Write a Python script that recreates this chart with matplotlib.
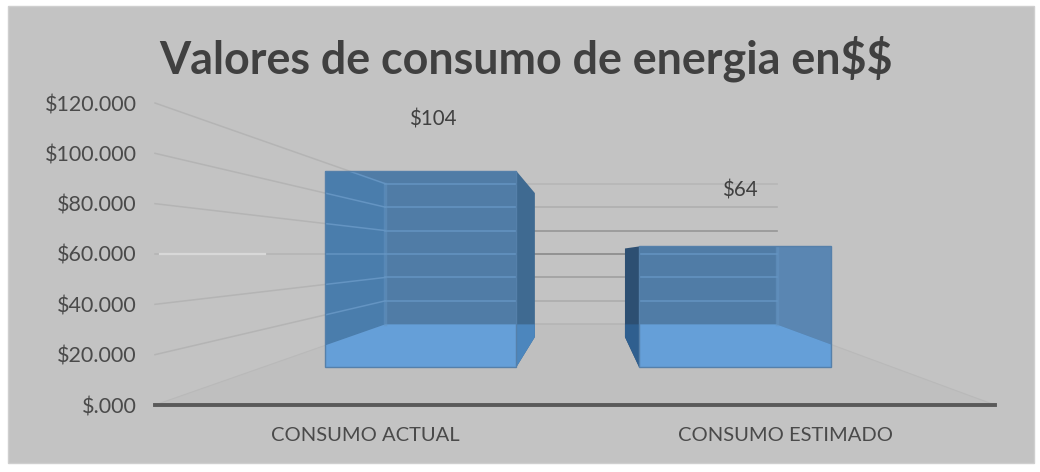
import matplotlib
matplotlib.use("Agg")
import matplotlib.pyplot as plt
from matplotlib.patches import Polygon, Rectangle

# --- datos ---
categorias = ["CONSUMO ACTUAL", "CONSUMO ESTIMADO"]
valores = [104, 64]
etiquetas = ["$104", "$64"]
niveles = [0, 20, 40, 60, 80, 100, 120]
niveles_txt = ["$.000", "$20.000", "$40.000", "$60.000", "$80.000", "$100.000", "$120.000"]

W, H = 1040, 472
plt.rcParams["font.family"] = ["Lato", "DejaVu Sans"]

fig = plt.figure(figsize=(W / 100, H / 100), dpi=100, facecolor="white")
fig.add_artist(Rectangle((8 / W, 1 - 463 / H), 1026 / W, 457 / H, transform=fig.transFigure,
                         facecolor="#c3c3c3", edgecolor="#cfcfcf", lw=1, zorder=-1))

# el plano frontal del piso coincide con los ejes
ax = fig.add_axes([155 / W, 1 - 405 / H, 840 / W, 302 / H])
ax.set_xlim(0, 2)
ax.set_ylim(0, 120)
ax.patch.set_visible(False)

# --- perspectiva: todo converge hacia (XC, VC) ---
XC, VC = 1.026, 60
S_PARED, S_FRENTE, S_FONDO = 0.466, 0.748, 0.55
ANCHO = 0.61


def proy(x, v, s):
    return XC + (x - XC) * s, VC + (v - VC) * s


def poligono(puntos, **kw):
    p = Polygon(puntos, closed=True, clip_on=False, **kw)
    ax.add_patch(p)
    return p


def piso():
    return [proy(0, 0, 1), proy(2, 0, 1), proy(2, 0, S_PARED), proy(0, 0, S_PARED)]


# piso general
poligono(piso(), facecolor="#bfbfbf", edgecolor="#b9b9b9", lw=0.8, zorder=1)

# --- lineas de division: pared izquierda y pared del fondo ---
colores_fondo = ["#b6b6b6", "#adadad", "#9f9f9f", "#8a8a8a", "#969696", "#afafaf", "#b6b6b6"]
for v, c in zip(niveles, colores_fondo):
    x0, y0 = proy(0, v, 1)
    x1, y1 = proy(0, v, S_PARED)
    x2, y2 = proy(2, v, S_PARED)
    if v > 0:
        ax.plot([x0, x1], [y0, y1], color="#b4b4b4", lw=1.1, clip_on=False, zorder=2)
    ax.plot([x1, x2], [y1, y2], color=c, lw=1.2, clip_on=False, zorder=2)
ax.plot([0.012, 0.262], [60, 60], color="#d8d8d8", lw=1.6, clip_on=False, zorder=2)


# --- barras transparentes: se ven las paredes y el piso a traves ---
def barra(i, valor):
    xa, xb = i + 0.5 - ANCHO / 2, i + 0.5 + ANCHO / 2
    f = [proy(xa, 0, S_FRENTE), proy(xb, 0, S_FRENTE), proy(xb, valor, S_FRENTE), proy(xa, valor, S_FRENTE)]
    # cara lateral: la que queda hacia el centro del grafico
    xl = xb if xb < XC else xa
    lat = [proy(xl, 0, S_FRENTE), proy(xl, 0, S_FONDO), proy(xl, valor, S_FONDO), proy(xl, valor, S_FRENTE)]
    lado = "#3f6a91" if i == 0 else "#2d4f72"
    cara_lat = poligono(lat, facecolor=lado, edgecolor="none", zorder=3)
    p_lat = poligono(piso(), facecolor="#4c86bd" if i == 0 else "#2f5f8f", edgecolor="none", zorder=4)
    p_lat.set_clip_path(cara_lat)
    p_lat.set_clip_on(True)

    cara = poligono(f, facecolor="#507ca6", edgecolor="none", zorder=5)

    def recorte(art):
        art.set_clip_path(cara)
        art.set_clip_on(True)

    # pared izquierda / derecha vista a traves de la barra
    for borde in (0, 2):
        pared = poligono([proy(borde, 0, 1), proy(borde, 0, S_PARED),
                          proy(borde, 120, S_PARED), proy(borde, 120, 1)],
                         facecolor="#4a7dac" if borde == 0 else "#5a86b2", edgecolor="none", zorder=6)
        recorte(pared)
    recorte(poligono(piso(), facecolor="#659fd8", edgecolor="none", zorder=7))

    for v in niveles[1:]:
        x0, y0 = proy(0, v, 1)
        x1, y1 = proy(0, v, S_PARED)
        x2, y2 = proy(2, v, S_PARED)
        for xs, ys in (([x0, x1], [y0, y1]), ([x1, x2], [y1, y2])):
            ln, = ax.plot(xs, ys, color="#6494c2", lw=1.1, zorder=8)
            recorte(ln)
    for borde in (0, 2):
        xv, y0 = proy(borde, 0, S_PARED)
        _, y1 = proy(borde, 120, S_PARED)
        ln, = ax.plot([xv, xv], [y0, y1], color="#6494c2", lw=2.5, alpha=0.5, zorder=8)
        recorte(ln)

    poligono(f, facecolor="none", edgecolor="#5580aa", lw=1, zorder=9)


for i, v in enumerate(valores):
    barra(i, v)

# --- etiquetas de datos ---
pos_etiquetas = [(0.661, 113.5), (1.393, 85.3)]
for txt, (x, y) in zip(etiquetas, pos_etiquetas):
    ax.text(x, y, txt, ha="center", va="center", fontsize=14.8, color="#404040", zorder=10, clip_on=False)

# --- ejes ---
ax.set_yticks(niveles, niveles_txt)
ax.set_xticks([0.5, 1.5], categorias)
ax.tick_params(axis="y", length=0, pad=13, labelsize=15.5, labelcolor="#4a4a4a")
ax.tick_params(axis="x", length=0, pad=16, labelsize=14.5, labelcolor="#4a4a4a")
for lado in ("top", "left", "right"):
    ax.spines[lado].set_visible(False)
ax.spines["bottom"].set_color("#5a5a5a")
ax.spines["bottom"].set_linewidth(2.8)
ax.spines["bottom"].set_zorder(11)

fig.text(526 / W, 1 - 59 / H, "Valores de consumo de energia en$$", ha="center", va="center",
         fontsize=32.3, fontweight="bold", color="#404040", parse_math=False)

fig.savefig("out.png", dpi=100, facecolor=fig.get_facecolor())
